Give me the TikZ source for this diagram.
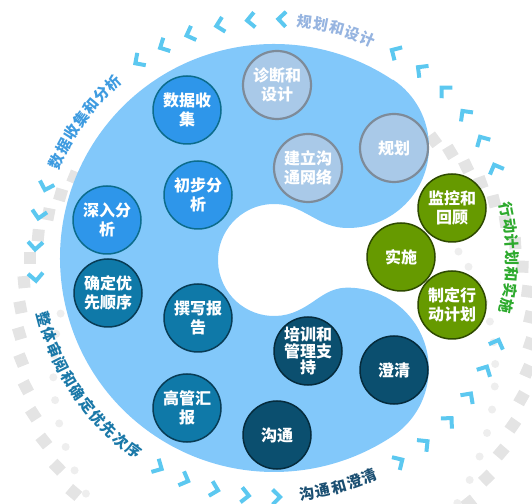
\documentclass[tikz,border=0pt]{standalone}
\usepackage{fontspec}
\usepackage{tikz}
\newfontfamily\cjk{Noto Sans CJK SC}

\definecolor{lobeblue}{HTML}{82C8FA}
\definecolor{chevcyan}{HTML}{5CC8F0}
\definecolor{sqgray}{HTML}{E4E4E4}
\definecolor{dotgray}{HTML}{EEEEEE}
\definecolor{planfill}{HTML}{A9C9E8}
\definecolor{planline}{HTML}{7E8B99}
\definecolor{datafill}{HTML}{2E96EA}
\definecolor{dataline}{HTML}{0C6C8C}
\definecolor{revfill}{HTML}{0F79A8}
\definecolor{revline}{HTML}{083C55}
\definecolor{commfill}{HTML}{0B4F6F}
\definecolor{commline}{HTML}{052B3C}
\definecolor{actfill}{HTML}{669A00}
\definecolor{actline}{HTML}{2E4A00}
\definecolor{plantext}{HTML}{96B4E0}
\definecolor{datatext}{HTML}{3E9BE0}
\definecolor{revtext}{HTML}{1A78A8}
\definecolor{commtext}{HTML}{1B4F72}
\definecolor{acttext}{HTML}{2EAA2E}

\tikzset{
	stage/.style={circle, draw, line width=1.5pt, minimum size=68pt, inner sep=0pt,
		text=white, align=center, font=\cjk\bfseries\fontsize{16}{19}\selectfont},
	plannode/.style={stage, fill=planfill, draw=planline, line width=2.2pt},
	datanode/.style={stage, fill=datafill, draw=dataline},
	revnode/.style={stage, fill=revfill, draw=revline},
	commnode/.style={stage, fill=commfill, draw=commline},
	actnode/.style={stage, fill=actfill, draw=actline},
	ringlbl/.style={inner sep=0pt, font=\cjk\bfseries\fontsize{15}{15}\selectfont},
	chev/.style={draw=chevcyan, line width=4pt, line join=miter}
}

% id, first angle, step, turn, colour, characters
\newcommand\ringtext[6]{%
	\foreach \ch [count=\k from 0] in {#6}
		\path (ctr) ++({#2+\k*(#3)}:238)
			node[ringlbl, text=#5, rotate={#2+\k*(#3)+#4}] (#1-\k) {\ch};
}

\begin{document}
\begin{tikzpicture}[x=1pt, y=1pt]
	\useasboundingbox (0,0) rectangle (532,503);
	\clip (0,0) rectangle (532,503);
	\coordinate (ctr) at (274,245);
	\coordinate (hole) at (274,243);

	% grey squares and dots
	\foreach \a in {42,36.5,...,-64}
		\fill[sqgray, shift={(ctr)}, rotate=\a] ({198+1.3*(37-(\a))-6},-6) rectangle ++(12,12);
	\foreach \a in {158,163.5,...,246}
		\fill[sqgray, shift={(ctr)}, rotate=\a] ({218+1.3*((\a)-160)-6},-6) rectangle ++(12,12);
	\foreach \a in {2,-2.6,...,-64}
		\fill[dotgray] (ctr) ++(\a:{189-2.2*(\a)}) circle[radius=4];
	\foreach \a in {190,194.6,...,250}
		\fill[dotgray] (ctr) ++(\a:{206+2.2*((\a)-188)}) circle[radius=4];

	% chevrons
	\foreach \a in {22,29.5,37,44.5,52,59.5,88,95.5,103,110.5,117.5,124.5,
			162.5,169.5,177,184.5,241,248,255.5,263,270.5,301.5,309,317,324.5,332,339}
		\draw[chev, shift={(ctr)}, rotate=\a] (231.5,-3.5) -- (239,4) -- (246.5,-3.5);

	% the C shaped field
	\fill[lobeblue] (ctr) ++(56.31:214) arc[start angle=56.31, end angle=303.69, radius=214]
		arc[start angle=-56.31, end angle=90, radius=81]
		to[out=180, in=25] ([shift={(-65:56)}]hole)
		arc[start angle=-65, end angle=-295, radius=56]
		to[out=-25, in=180] (348,275)
		arc[start angle=-90, end angle=56.31, radius=81] -- cycle;

	% phase names
	\ringtext{design}{82.5}{-3.9}{-90}{plantext}{规,划,和,设,计}
	\ringtext{data}{156}{-3.9}{-90}{datatext}{数,据,收,集,和,分,析}
	\ringtext{review}{195}{3.9}{90}{revtext}{整,体,审,阅,和,确,定,优,先,次,序}
	\ringtext{comm}{278}{3.9}{90}{commtext}{沟,通,和,澄,清}
	\ringtext{action}{11.7}{-3.9}{-90}{acttext}{行,动,计,划,和,实,施}

	% steps
	\node[plannode] (diag) at (277,418) {诊断和\\设计};
	\node[plannode] (netw) at (308,335) {建立沟\\通网络};
	\node[plannode] (plan) at (394,355) {规划};
	\node[datanode] (collect) at (187,393) {数据收\\集};
	\node[datanode] (prelim) at (198,308) {初步分\\析};
	\node[datanode] (deep) at (107,283) {深入分\\析};
	\node[revnode] (prio) at (108,210) {确定优\\先顺序};
	\node[revnode] (report) at (198,185) {撰写报\\告};
	\node[revnode] (brief) at (187,95) {高管汇\\报};
	\node[commnode, font=\cjk\bfseries\fontsize{16}{16.5}\selectfont] (train) at (308,152) {培训和\\管理支\\持};
	\node[commnode] (clarify) at (394,133) {澄清};
	\node[commnode] (talk) at (277,68) {沟通};
	\node[actnode] (monitor) at (452,295) {监控和\\回顾};
	\node[actnode] (implement) at (401,246) {实施};
	\node[actnode] (actplan) at (452,198) {制定行\\动计划};
\end{tikzpicture}
\end{document}
